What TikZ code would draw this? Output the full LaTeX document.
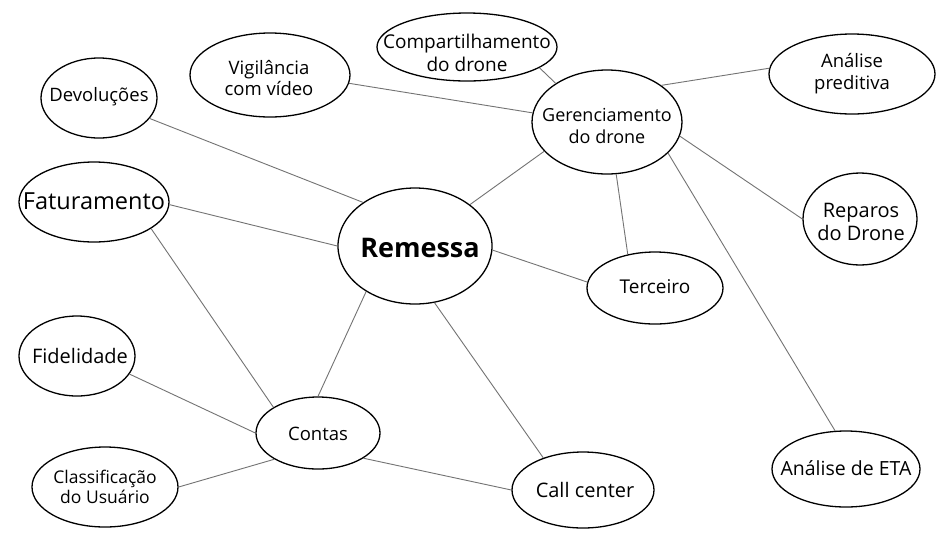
\documentclass[tikz,border=0pt]{standalone}
\usepackage{fontspec}
\setmainfont{Open Sans}
\usetikzlibrary{shapes.geometric}
\tikzset{
  bub/.style={draw=black, line width=1.3pt, ellipse, inner sep=0pt},
  txt/.style={align=center, inner sep=0pt, font=\fontsize{#1}{\fpeval{#1*1.18}}\selectfont},
  link/.style={draw=black!55, line width=0.9pt},
}
\begin{document}
\begin{tikzpicture}[x=1pt,y=-1pt]
\useasboundingbox[fill=white] (0,0) rectangle (950,550);
\node[bub, minimum width=154pt, minimum height=116pt] (rem) at (415,246) {};
\node[align=center, inner sep=0pt, font=\fontsize{27}{30}\selectfont\bfseries] (remt) at (420,248) {Remessa};
\node[bub, minimum width=150pt, minimum height=104pt] (ger) at (607,122) {};
\node[txt=18] (gert) at (607,126) {Gerenciamento\\do drone};
\node[bub, minimum width=180pt, minimum height=68pt] (comp) at (467,47) {};
\node[txt=19] (compt) at (467,53) {Compartilhamento\\do drone};
\node[bub, minimum width=160pt, minimum height=84pt] (vig) at (270,75) {};
\node[txt=18.5] (vigt) at (269,78) {Vigilância\\com vídeo};
\node[bub, minimum width=116pt, minimum height=80pt] (dev) at (99,98) {};
\node[txt=18.5] (devt) at (99,97) {Devoluções};
\node[bub, minimum width=150pt, minimum height=80pt] (fat) at (94,202) {};
\node[txt=23.5] (fatt) at (94,201) {Faturamento};
\node[bub, minimum width=166pt, minimum height=80pt] (pred) at (852,74) {};
\node[txt=18.5] (predt) at (852,74) {Análise\\preditiva};
\node[bub, minimum width=114pt, minimum height=92pt] (rep) at (860,219) {};
\node[txt=20] (rept) at (861,222) {Reparos\\do Drone};
\node[bub, minimum width=136pt, minimum height=72pt] (ter) at (655,288) {};
\node[txt=19] (tert) at (655,287) {Terceiro};
\node[bub, minimum width=116pt, minimum height=80pt] (fid) at (77,356) {};
\node[txt=20] (fidt) at (80,356) {Fidelidade};
\node[bub, minimum width=124pt, minimum height=72pt] (con) at (318,433) {};
\node[txt=18.5] (cont) at (318,434) {Contas};
\node[bub, minimum width=146pt, minimum height=80pt] (cla) at (105,487) {};
\node[txt=17.5] (clat) at (105,487) {Classificação\\do Usuário};
\node[bub, minimum width=142pt, minimum height=76pt] (cal) at (583,490) {};
\node[txt=20] (calt) at (585,490) {Call center};
\node[bub, minimum width=148pt, minimum height=76pt] (eta) at (846,469) {};
\node[txt=19.5] (etat) at (846,468) {Análise de ETA};
\draw[link] (dev.-22) -- (rem.140);
\draw[link] (fat.-2) -- (rem.180);
\draw[link] (fat.-25) -- (con.150);
\draw[link] (vig.-6) -- (ger.173);
\draw[link] (comp.-16) -- (ger.143);
\draw[link] (pred.176) -- (ger.34);
\draw[link] (ger.-11) -- (rep.180);
\draw[link] (ger.-80) -- (ter.129);
\draw[link] (ger.-27) -- (eta.106);
\draw[link] (ger.-155) -- (rem.37);
\draw[link] (rem.-3) -- (ter.175);
\draw[link] (rem.-137) -- (con.90);
\draw[link] (rem.-71) -- (cal.141);
\draw[link] (fid.-19) -- (con.180);
\draw[link] (cla.0) -- (con.-149);
\draw[link] (con.-29) -- (cal.180);
\end{tikzpicture}
\end{document}
